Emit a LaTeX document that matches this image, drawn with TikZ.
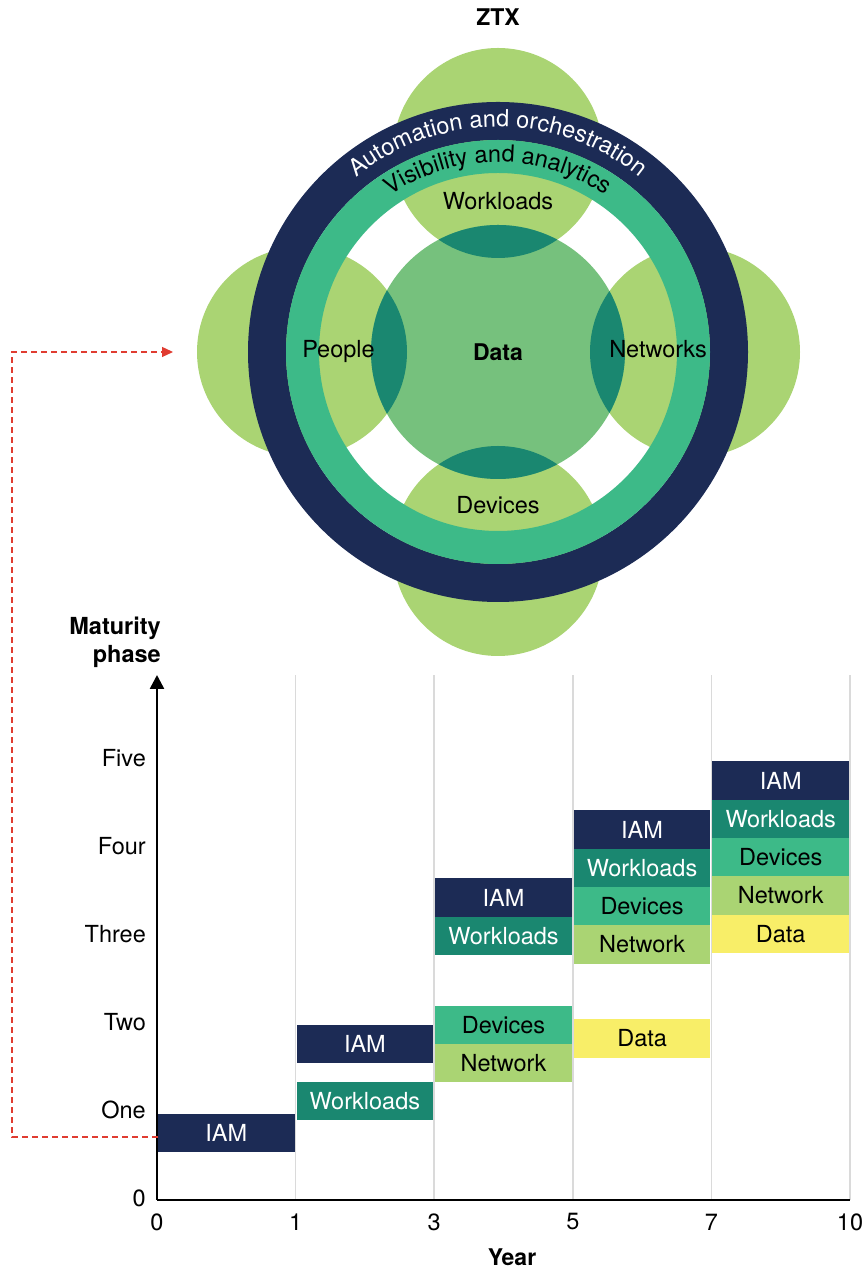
\documentclass[tikz,border=0pt]{standalone}
\usepackage{fontspec}
\setmainfont{TeX Gyre Heros}
\usetikzlibrary{arrows.meta,decorations.text}
\definecolor{navy}{HTML}{1C2B55}
\definecolor{ringgreen}{HTML}{3DBA88}
\definecolor{lightgreen}{HTML}{AAD473}
\definecolor{datagreen}{HTML}{76C17D}
\definecolor{darkteal}{HTML}{1A8770}
\definecolor{yellowc}{HTML}{F8EE68}
\definecolor{gridgray}{HTML}{DADADA}
\definecolor{dashred}{HTML}{E03C31}
\newcommand\arcfont{\fontsize{23.5}{27}\selectfont}
\begin{document}
\begin{tikzpicture}[x=1pt,y=1pt,font=\fontsize{23.5}{27}\selectfont,
  bar/.style={minimum width=136.6, minimum height=38.3, inner sep=0pt, anchor=center},
  iamb/.style={bar, fill=navy, text=white},
  wlb/.style={bar, fill=darkteal, text=white},
  devb/.style={bar, fill=ringgreen, text=black},
  netb/.style={bar, fill=lightgreen, text=black},
  datab/.style={bar, fill=yellowc, text=black},
  grid/.style={draw=gridgray, line width=1.5pt},
  axisline/.style={draw=black, line width=2.5pt},
  ylab/.style={anchor=east, inner sep=0pt},
  xlab/.style={anchor=center, inner sep=0pt},
  reddash/.style={draw=dashred, line width=1.3pt, dash pattern=on 6pt off 4pt},
  lbl/.style={inner sep=0pt, anchor=center}
]
\useasboundingbox (0,0) rectangle (866,1272);
\fill[white] (0,0) rectangle (866,1272);

% ---------- ZTX diagram ----------
\coordinate (ctr) at (498,920);
\coordinate (cwl) at (498,1119);
\coordinate (cdev) at (498,721);
\coordinate (cpeo) at (302,920);
\coordinate (cnet) at (695,920);

\fill[lightgreen] (cwl) circle[radius=105] (cdev) circle[radius=105]
                  (cpeo) circle[radius=105] (cnet) circle[radius=105];
\fill[navy, even odd rule] (ctr) circle[radius=250] (ctr) circle[radius=212];
\fill[ringgreen, even odd rule] (ctr) circle[radius=212] (ctr) circle[radius=179];
\fill[datagreen] (ctr) circle[radius=127];
\begin{scope}
  \clip (ctr) circle[radius=127];
  \fill[darkteal] (cwl) circle[radius=105] (cdev) circle[radius=105]
                  (cpeo) circle[radius=105] (cnet) circle[radius=105];
\end{scope}

\path[decorate, decoration={text along path, text align=center, text color=white,
   text={|\arcfont|Automation and orchestration}}]
   ([shift={(150:225)}]ctr) arc[start angle=150, end angle=30, radius=225];
\path[decorate, decoration={text along path, text align=center, text color=black,
   text={|\arcfont|Visibility and analytics}}]
   ([shift={(145:190)}]ctr) arc[start angle=145, end angle=35, radius=190];

\node[lbl, font=\fontsize{23}{27}\selectfont\bfseries] (ztx) at (498,1255) {ZTX};
\node[lbl] (wltxt) at (498,1071) {Workloads};
\node[inner sep=0pt, anchor=base] (peotxt) at (338.5,914) {People};
\node[inner sep=0pt, anchor=base] (nettxt) at (658,914) {Networks};
\node[lbl] (devtxt) at (498,767) {Devices};
\node[lbl, font=\fontsize{23}{27}\selectfont\bfseries] (datatxt) at (498,920) {Data};
\coordinate (ztxin) at (173,920);
\coordinate (dashtop) at (12,920);

% ---------- chart ----------
\coordinate (origin) at (157,72);
\coordinate (xend) at (850,72);
\coordinate (ytip) at (157,597);

\foreach \gx in {295.6,434.2,572.8,711.4,850} {
  \draw[grid] (\gx,72) -- (\gx,597);
}

\node[iamb] (c0iam) at (226.3,139) {IAM};
\node[iamb] (c1iam) at (364.9,228) {IAM};
\node[wlb]  (c1wl)  at (364.9,171) {Workloads};
\node[iamb] (c2iam) at (503.5,374.5) {IAM};
\node[wlb]  (c2wl)  at (503.5,336.2) {Workloads};
\node[devb] (c2dev) at (503.5,247) {Devices};
\node[netb] (c2net) at (503.5,208.7) {Network};
\node[iamb] (c3iam) at (642.1,442.5) {IAM};
\node[wlb]  (c3wl)  at (642.1,404.2) {Workloads};
\node[devb] (c3dev) at (642.1,365.9) {Devices};
\node[netb] (c3net) at (642.1,327.6) {Network};
\node[datab] (c3data) at (642.1,233.5) {Data};
\node[iamb] (c4iam) at (780.7,491.5) {IAM};
\node[wlb]  (c4wl)  at (780.7,453.2) {Workloads};
\node[devb] (c4dev) at (780.7,414.9) {Devices};
\node[netb] (c4net) at (780.7,376.6) {Network};
\node[datab] (c4data) at (780.7,338.3) {Data};

\draw[axisline] (origin) -- (xend);
\draw[axisline, -{Triangle[width=14pt,length=14pt]}] (origin) -- (ytip);

\node[ylab] (yfive)  at (146,514) {Five};
\node[ylab] (yfour)  at (146,426) {Four};
\node[ylab] (ythree) at (146,338) {Three};
\node[ylab] (ytwo)   at (146,250) {Two};
\node[ylab] (yone)   at (146,162) {One};
\node[ylab] (yzero)  at (146,74) {0};
\node[anchor=east, inner sep=0pt, align=right, font=\fontsize{23.5}{28}\selectfont\bfseries] (ytitle) at (161,630) {Maturity\\phase};

\node[xlab] (x0)  at (157,50) {0};
\node[xlab] (x1)  at (295.6,50) {1};
\node[xlab] (x3)  at (434.2,50) {3};
\node[xlab] (x5)  at (572.8,50) {5};
\node[xlab] (x7)  at (711.4,50) {7};
\node[xlab] (x10) at (850,50) {10};
\node[xlab, font=\fontsize{23}{27}\selectfont\bfseries] (xtitle) at (512,15) {Year};

\draw[reddash, -{Triangle[width=10pt,length=11pt]}] ([yshift=-4pt]c0iam.west) -| (dashtop) -- (ztxin);
\end{tikzpicture}
\end{document}
